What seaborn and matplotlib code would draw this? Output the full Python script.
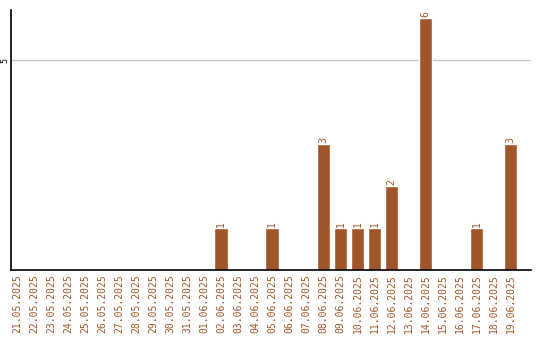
import matplotlib
matplotlib.use("Agg")
import matplotlib.pyplot as plt
import seaborn as sns
import pandas as pd

dates = ["21.05.2025", "22.05.2025", "23.05.2025", "24.05.2025", "25.05.2025",
         "26.05.2025", "27.05.2025", "28.05.2025", "29.05.2025", "30.05.2025",
         "31.05.2025", "01.06.2025", "02.06.2025", "03.06.2025", "04.06.2025",
         "05.06.2025", "06.06.2025", "07.06.2025", "08.06.2025", "09.06.2025",
         "10.06.2025", "11.06.2025", "12.06.2025", "13.06.2025", "14.06.2025",
         "15.06.2025", "16.06.2025", "17.06.2025", "18.06.2025", "19.06.2025"]
counts = [0, 0, 0, 0, 0, 0, 0, 0, 0, 0, 0, 0, 1, 0, 0, 1, 0, 0, 3, 1,
          1, 1, 2, 0, 6, 0, 0, 1, 0, 3]
y_ticks = [5]

sns.set_style("white")
df = pd.DataFrame({"date": dates, "count": counts})

fig = plt.figure(figsize=(5.4, 3.4), dpi=100)
ax = fig.add_axes([11 / 540, 70 / 340, 520 / 540, 260 / 340])
color = "#A0552A"
sns.barplot(data=df, x="date", y="count", color=color, width=0.8,
            saturation=1, ax=ax, order=dates)
for c in ax.containers:
    ax.bar_label(c, labels=[str(v) if v else "" for v in counts],
                 rotation=90, padding=1, fontsize=7, color=color,
                 family="DejaVu Sans Mono")

ax.set_xlim(-0.35, 30.2)
ax.set_ylim(0, 6.2)
ax.set_yticks(y_ticks)
ax.set_yticklabels([])
for t in y_ticks:
    ax.annotate(str(t), xy=(0, t), xycoords=("axes fraction", "data"),
                xytext=(-4.3, 0), textcoords="offset points",
                ha="center", va="center", rotation=90, rotation_mode="anchor",
                fontsize=6, family="DejaVu Sans Mono", color="black")
ax.yaxis.grid(True, color="#c8c8c8", linewidth=1)
ax.set_axisbelow(True)
ax.tick_params(axis="x", length=0, pad=3, labelsize=7, labelcolor=color,
               rotation=90)
ax.tick_params(axis="y", length=0)
for lbl in ax.get_xticklabels():
    lbl.set_family("DejaVu Sans Mono")
ax.set_xlabel("")
ax.set_ylabel("")
for s in ["top", "right"]:
    ax.spines[s].set_visible(False)
for s in ["left", "bottom"]:
    ax.spines[s].set_color("black")
    ax.spines[s].set_linewidth(1.2)

fig.savefig("out.png", dpi=100)
